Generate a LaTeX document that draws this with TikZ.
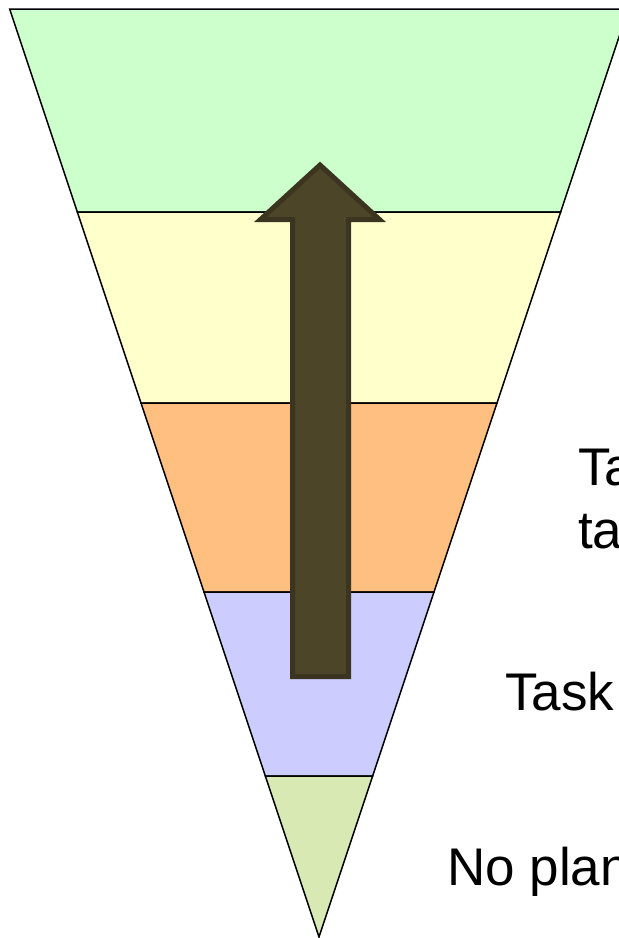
\documentclass[tikz,border=0pt]{standalone}
\usepackage{fontspec}
\setmainfont{Liberation Sans}
\definecolor{bandA}{HTML}{CCFFCC}
\definecolor{bandB}{HTML}{FFFFCC}
\definecolor{bandC}{HTML}{FFBF80}
\definecolor{bandD}{HTML}{CCCCFF}
\definecolor{bandE}{HTML}{D8E9B4}
\definecolor{arrowfill}{HTML}{4C4527}
\definecolor{arrowline}{HTML}{3A3420}
\tikzset{
  band/.style={draw=black, line width=1.5pt, line join=miter},
  lbl/.style={anchor=base west, inner sep=0pt, font=\fontsize{53}{63}\selectfont, align=left}
}
\begin{document}
\begin{tikzpicture}[x=1pt,y=-1pt]
\useasboundingbox (0,0) rectangle (619,938);
\clip (0,0) rectangle (619,938);
\fill[white] (0,0) rectangle (619,938);
% bands
\filldraw[band, fill=bandA] (9.67,9) -- (628.3,9) -- (560.67,212) -- (77.33,212) -- cycle;
\filldraw[band, fill=bandB] (77.33,212) -- (560.67,212) -- (497,403) -- (141,403) -- cycle;
\filldraw[band, fill=bandC] (141,403) -- (497,403) -- (434,592) -- (204,592) -- cycle;
\filldraw[band, fill=bandD] (204,592) -- (434,592) -- (372.67,776) -- (265.33,776) -- cycle;
\filldraw[band, fill=bandE] (265.33,776) -- (372.67,776) -- (319,937) -- cycle;
% arrow
\filldraw[fill=arrowfill, draw=arrowline, line width=5pt, line join=miter]
  (292.5,676.5) -- (292.5,219.5) -- (260.5,219.5) -- (320,165) -- (379.5,219.5)
  -- (348.5,219.5) -- (348.5,676.5) -- cycle;
% labels
\node[lbl] (l1) at (578,485) {Ta};
\node[lbl] (l2) at (578,548) {ta};
\node[lbl] (l3) at (505,710) {Task};
\node[lbl] (l4) at (447,885) {No plan};
\end{tikzpicture}
\end{document}
